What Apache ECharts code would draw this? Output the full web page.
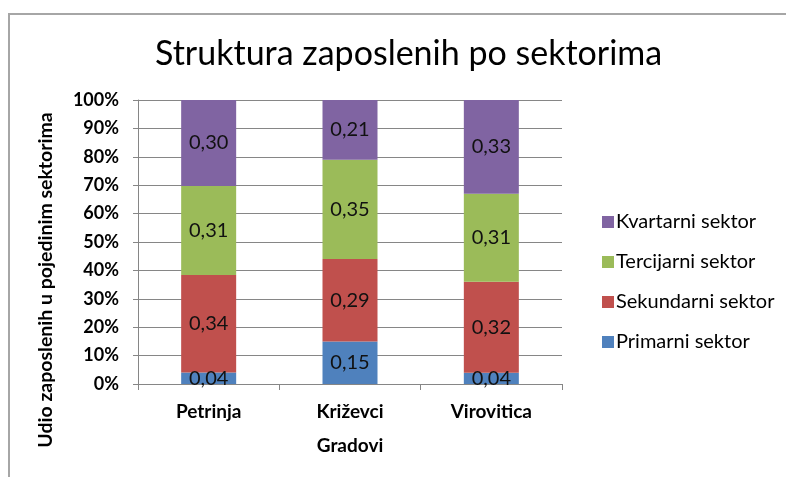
<!DOCTYPE html>
<html>
<head>
<meta charset="utf-8">
<script src="https://cdn.jsdelivr.net/npm/echarts@6/dist/echarts.min.js"></script>
<style>
  html, body { margin: 0; padding: 0; background: #fff; }
  #main { width: 786px; height: 477px; }
</style>
</head>
<body>
<div id="main"></div>
<script>
// podaci
var gradovi = ['Petrinja', 'Križevci', 'Virovitica'];
var primarni = [0.04, 0.15, 0.04];
var sekundarni = [0.34, 0.29, 0.32];
var tercijarni = [0.31, 0.35, 0.31];
var kvartarni = [0.30, 0.21, 0.33];
var yTicks = [0, 10, 20, 30, 40, 50, 60, 70, 80, 90, 100];

var sektori = [
    { name: 'Primarni sektor', data: primarni, color: '#4F81BD' },
    { name: 'Sekundarni sektor', data: sekundarni, color: '#C0504D' },
    { name: 'Tercijarni sektor', data: tercijarni, color: '#9BBB59' },
    { name: 'Kvartarni sektor', data: kvartarni, color: '#8064A2' }
];

// zbroj po gradu (za 100% stupce)
var zbroj = gradovi.map(function (g, i) {
    var s = 0;
    sektori.forEach(function (sk) { s += sk.data[i]; });
    return s;
});

var font = 'Lato, "Open Sans", sans-serif';

var chart = echarts.init(document.getElementById('main'));
var option = {
    animation: false,
    title: {
        text: 'Struktura zaposlenih po sektorima',
        left: 150,
        top: 32,
        textStyle: { fontFamily: font, fontSize: 34, fontWeight: 'normal', color: '#000' }
    },
    legend: {
        orient: 'vertical',
        left: 597,
        top: 206,
        icon: 'rect',
        itemWidth: 12,
        itemHeight: 12,
        itemGap: 18,
        data: ['Kvartarni sektor', 'Tercijarni sektor', 'Sekundarni sektor', 'Primarni sektor'],
        textStyle: { fontFamily: font, fontSize: 20, color: '#000', padding: [0, 0, 0, -3], lineHeight: 22 }
    },
    grid: { left: 138, top: 100, width: 424, height: 284 },
    xAxis: {
        type: 'category',
        data: gradovi,
        name: 'Gradovi',
        nameLocation: 'middle',
        nameGap: 52,
        nameTextStyle: { fontFamily: font, fontSize: 19, fontWeight: 'bold', color: '#000' },
        axisLine: { lineStyle: { color: '#868686' } },
        axisTick: { show: true, alignWithLabel: false, length: 6, lineStyle: { color: '#868686' } },
        axisLabel: { fontFamily: font, fontSize: 19, fontWeight: 'bold', color: '#000', margin: 18 }
    },
    yAxis: {
        type: 'value',
        min: 0,
        max: 100,
        interval: 10,
        axisLine: { show: true, lineStyle: { color: '#868686' } },
        axisTick: { show: true, length: 5, lineStyle: { color: '#868686' } },
        splitLine: { lineStyle: { color: '#868686' } },
        axisLabel: {
            fontFamily: font, fontSize: 18, fontWeight: 'bold', color: '#000', margin: 19,
            formatter: function (v) { return yTicks.indexOf(v) >= 0 ? v + '%' : ''; }
        }
    },
    graphic: [
        {
            type: 'rect',
            shape: { x: 9, y: 14, width: 800, height: 500 },
            style: { fill: 'none', stroke: '#a6a6a6', lineWidth: 2 },
            silent: true
        },
        {
            type: 'text',
            x: 46,
            y: 280,
            rotation: Math.PI / 2,
            style: {
                text: 'Udio zaposlenih u pojedinim sektorima',
                font: 'bold 19.5px ' + font,
                fill: '#000',
                align: 'center',
                verticalAlign: 'middle'
            }
        }
    ],
    series: sektori.map(function (sk) {
        return {
            name: sk.name,
            type: 'bar',
            stack: 'ukupno',
            barWidth: 55,
            itemStyle: { color: sk.color },
            data: sk.data.map(function (v, i) { return v / zbroj[i] * 100; }),
            label: {
                show: true,
                position: 'inside',
                fontFamily: font,
                fontSize: 20,
                color: '#111',
                formatter: function (p) { return sk.data[p.dataIndex].toFixed(2).replace('.', ','); }
            }
        };
    })
};
chart.setOption(option);
</script>
</body>
</html>
